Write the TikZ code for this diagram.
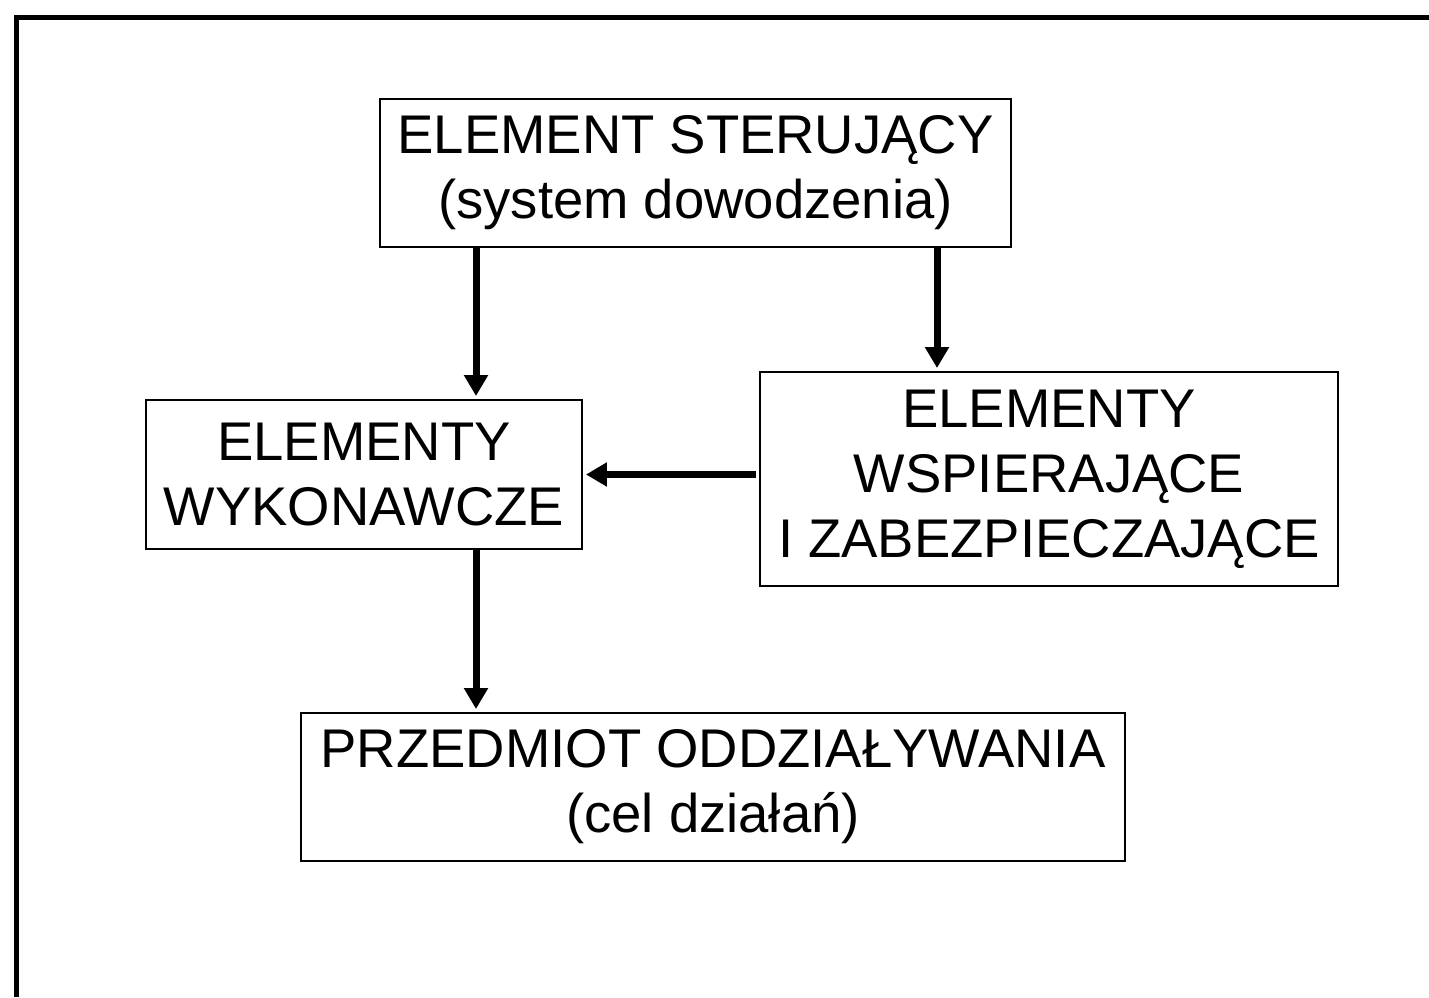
\documentclass[tikz,border=0pt]{standalone}
\usepackage{fontspec}
\setmainfont{Liberation Sans}
\usetikzlibrary{arrows.meta}

\begin{document}
\begin{tikzpicture}[x=0.02cm, y=-0.02cm,
    every node/.style={font=\fontsize{31}{37}\selectfont},
    blok/.style={draw, line width=1.1pt, align=center, inner sep=0pt},
    pil/.style={line width=0.14cm, -{Triangle[length=0.42cm,width=0.46cm]}, shorten >=0.06cm}]

  % rozmiar strony (w pikselach)
  \useasboundingbox (0,0) rectangle (1429,997);

  % ramka: tylko lewa i górna krawędź
  \draw[line width=0.1cm] (16.5,997) -- (16.5,17.5) -- (1429,17.5);

  % ---- bloki ----
  \node[blok, minimum width=631*0.02cm, minimum height=148*0.02cm] (ster) at (695.5,173)
    {ELEMENT STERUJĄCY\\(system dowodzenia)};
  \node[blok, minimum width=436*0.02cm, minimum height=149*0.02cm] (wyk) at (364,474.5)
    {ELEMENTY\\WYKONAWCZE};
  \node[blok, minimum width=578*0.02cm, minimum height=214*0.02cm] (wsp) at (1049,479)
    {ELEMENTY\\WSPIERAJĄCE\\I ZABEZPIECZAJĄCE};
  \node[blok, minimum width=824*0.02cm, minimum height=148*0.02cm] (cel) at (713,787)
    {PRZEDMIOT ODDZIAŁYWANIA\\(cel działań)};

  % kolumny strzałek pionowych
  \coordinate (kol1) at (476,0);
  \coordinate (kol2) at (937,0);

  % ---- strzałki ----
  \draw[pil] (ster.south -| kol1) -- (wyk.north -| kol1);
  \draw[pil] (ster.south -| kol2) -- (wsp.north -| kol2);
  \draw[pil, shorten <=0.06cm] (wsp.west |- wyk) -- (wyk.east);
  \draw[pil] (wyk.south -| kol1) -- (cel.north -| kol1);

\end{tikzpicture}
\end{document}
